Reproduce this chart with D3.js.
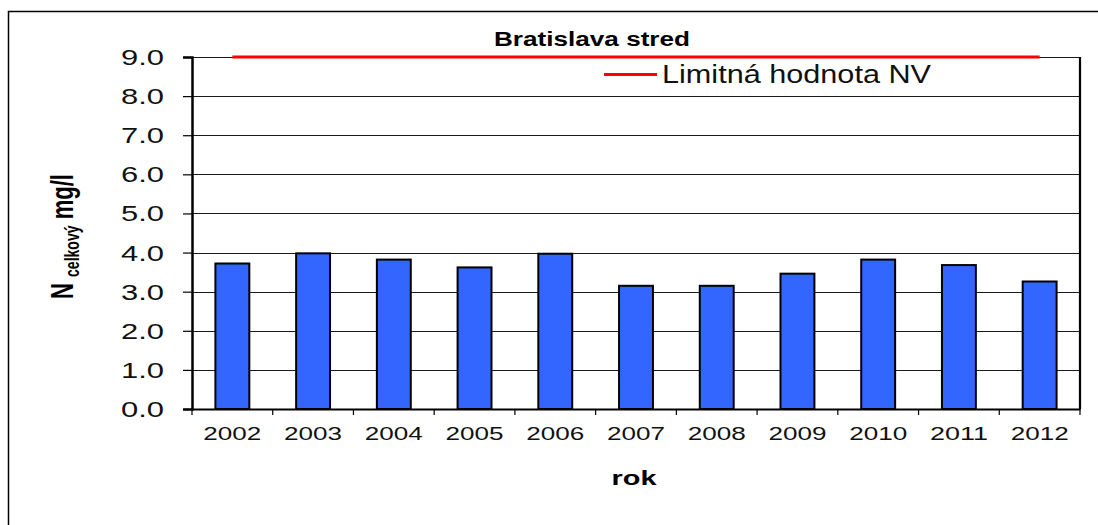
<!DOCTYPE html>
<html>
<head>
<meta charset="utf-8">
<script src="https://cdn.jsdelivr.net/npm/d3@7"></script>
<style>
  html, body { margin: 0; padding: 0; background: #fff; }
  svg { display: block; font-family: "Liberation Sans", Arial, sans-serif; }
</style>
</head>
<body>
<svg id="chart" width="1098" height="525"></svg>
<script>
// ---- data ----
const years = ["2002","2003","2004","2005","2006","2007","2008","2009","2010","2011","2012"];
const nCelkovy = [3.72, 3.98, 3.82, 3.62, 3.97, 3.15, 3.15, 3.46, 3.82, 3.68, 3.26];
const limitValue = [9.0, 9.0, 9.0, 9.0, 9.0, 9.0, 9.0, 9.0, 9.0, 9.0, 9.0];
const yTicks = [0, 1, 2, 3, 4, 5, 6, 7, 8, 9];
const titleText = "Bratislava stred";
const legendText = "Limitná hodnota NV";
const xTitle = "rok";

// ---- layout ----
const svg = d3.select("#chart");
const pLeft = 192, pRight = 1080, pTop = 57, pBottom = 409;

const x = d3.scaleBand().domain(years).range([pLeft, pRight]).paddingInner(0.58).paddingOuter(0.29);
const y = d3.scaleLinear().domain([0, 9]).range([pBottom, pTop]);

// outer border (extends beyond the visible area)
svg.append("rect").attr("x", 8.5).attr("y", 11.5).attr("width", 1200).attr("height", 600)
  .attr("fill", "none").attr("stroke", "#000").attr("stroke-width", 1.5);

// gridlines
svg.append("g").selectAll("line").data(yTicks.filter(d => d > 0)).join("line")
  .attr("x1", pLeft).attr("x2", pRight)
  .attr("y1", d => Math.round(y(d)) + 0.5).attr("y2", d => Math.round(y(d)) + 0.5)
  .attr("stroke", "#1a1a1a").attr("stroke-width", 1.2);

// right border of plot
svg.append("line").attr("x1", pRight).attr("x2", pRight).attr("y1", pTop).attr("y2", pBottom)
  .attr("stroke", "#000").attr("stroke-width", 2.2);

// bars
svg.append("g").selectAll("rect").data(years).join("rect")
  .attr("x", d => x(d))
  .attr("y", (d, i) => y(nCelkovy[i]))
  .attr("width", x.bandwidth())
  .attr("height", (d, i) => y(0) - y(nCelkovy[i]))
  .attr("fill", "#3366FF").attr("stroke", "#000").attr("stroke-width", 2);

// limit line
const line = d3.line().x((d, i) => x(years[i]) + x.bandwidth() / 2).y(d => y(d));
svg.append("path").datum(limitValue).attr("d", line)
  .attr("fill", "none").attr("stroke", "#FF0000").attr("stroke-width", 3);

// y axis
const yAxis = svg.append("g").attr("transform", `translate(${pLeft},0)`)
  .call(d3.axisLeft(y).tickValues(yTicks).tickFormat(d3.format(".1f")).tickSize(9).tickPadding(19));
yAxis.select(".domain").attr("stroke", "#000").attr("stroke-width", 2.5);
yAxis.selectAll(".tick line").attr("stroke", "#000").attr("stroke-width", 1.2);
yAxis.selectAll(".tick text")
  .attr("font-size", 22).attr("fill", "#111").attr("dy", "0.34em")
  .attr("textLength", 43).attr("lengthAdjust", "spacingAndGlyphs")
  .style("font-family", "'Liberation Sans', Arial, sans-serif");

// x axis
const xAxis = svg.append("g").attr("transform", `translate(0,${pBottom})`)
  .call(d3.axisBottom(x).tickSize(0).tickPadding(0));
xAxis.select(".domain").attr("stroke", "#000").attr("stroke-width", 1.8);
xAxis.selectAll(".tick text")
  .attr("y", 31).attr("dy", 0)
  .attr("font-size", 18.5).attr("fill", "#111")
  .attr("textLength", 58).attr("lengthAdjust", "spacingAndGlyphs")
  .style("font-family", "'Liberation Sans', Arial, sans-serif");
// boundary ticks
const bounds = d3.range(years.length + 1).map(i => pLeft + i * x.step());
svg.append("g").selectAll("line").data(bounds).join("line")
  .attr("x1", d => d).attr("x2", d => d).attr("y1", pBottom).attr("y2", pBottom + 6)
  .attr("stroke", "#000").attr("stroke-width", 1.2);

// title
svg.append("text").attr("x", 592).attr("y", 46).attr("text-anchor", "middle")
  .attr("font-size", 20).attr("font-weight", "bold").attr("fill", "#000")
  .attr("textLength", 196).attr("lengthAdjust", "spacingAndGlyphs")
  .text(titleText);

// legend
svg.append("line").attr("x1", 604).attr("x2", 657).attr("y1", 74.5).attr("y2", 74.5)
  .attr("stroke", "#FF0000").attr("stroke-width", 3);
svg.append("text").attr("x", 662).attr("y", 83).attr("font-size", 26).attr("fill", "#111")
  .attr("textLength", 269).attr("lengthAdjust", "spacingAndGlyphs")
  .text(legendText);

// x title
svg.append("text").attr("x", 634).attr("y", 485).attr("text-anchor", "middle")
  .attr("font-size", 20).attr("font-weight", "bold").attr("fill", "#000")
  .attr("textLength", 45).attr("lengthAdjust", "spacingAndGlyphs")
  .text(xTitle);

// y title
const yt = svg.append("text")
  .attr("transform", "translate(73,299) scale(1.42,1) rotate(-90)")
  .attr("font-size", 22).attr("font-weight", "bold").attr("fill", "#000")
  .attr("textLength", 125).attr("lengthAdjust", "spacingAndGlyphs");
yt.append("tspan").text("N ");
yt.append("tspan").attr("font-size", 14).attr("dy", 4).text("celkový");
yt.append("tspan").attr("dy", -4).text(" mg/l");
</script>
</body>
</html>
